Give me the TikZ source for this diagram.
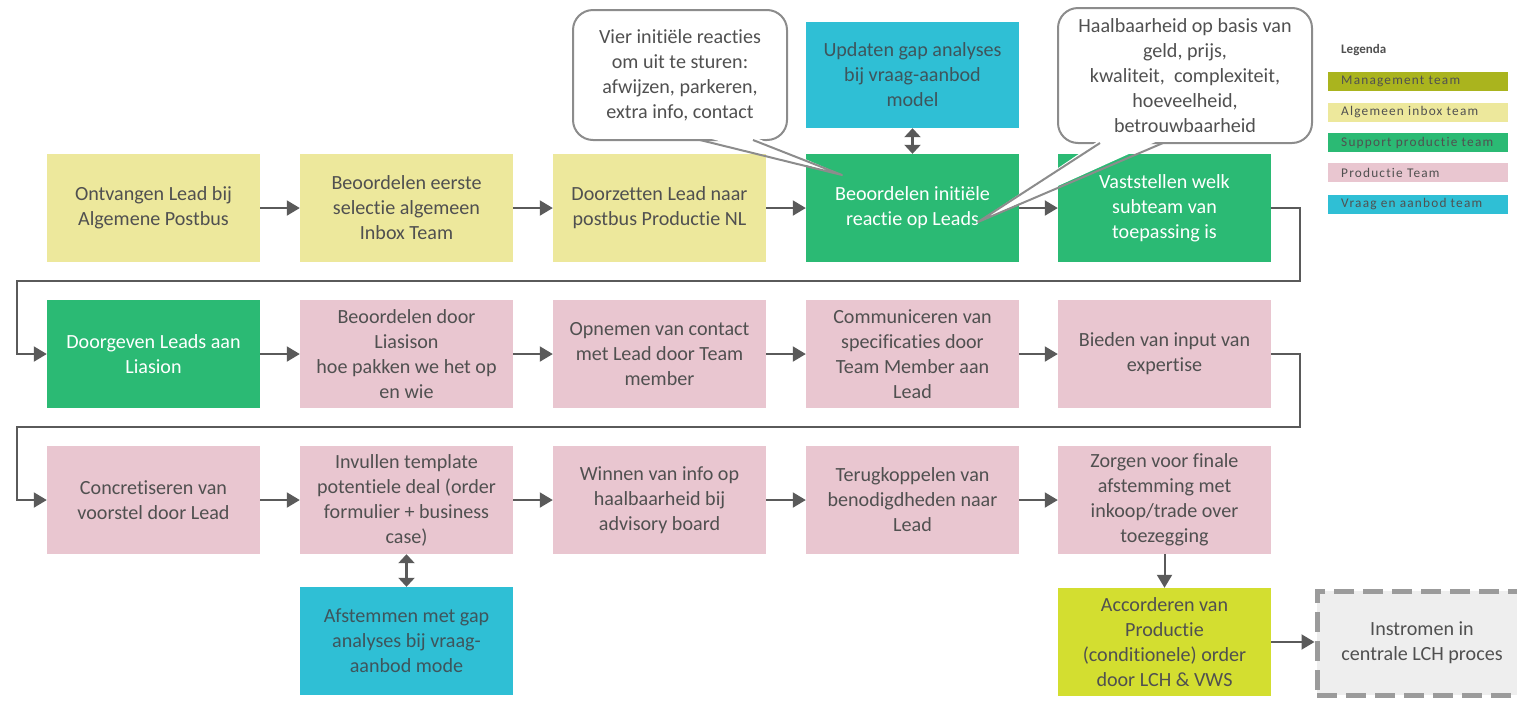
\documentclass[tikz,border=0pt]{standalone}
\usepackage{fontspec}
\setmainfont{Carlito}[Ligatures=NoCommon]
\newfontfamily\legfont{Carlito}[Ligatures=NoCommon,LetterSpace=9]
\usetikzlibrary{arrows.meta}
\definecolor{yel}{RGB}{237,232,156}
\definecolor{grn}{RGB}{43,186,116}
\definecolor{pnk}{RGB}{233,198,208}
\definecolor{cya}{RGB}{47,191,213}
\definecolor{oli}{RGB}{170,180,30}
\definecolor{lim}{RGB}{211,222,48}
\definecolor{txt}{RGB}{80,80,80}
\definecolor{ctxt}{RGB}{62,85,92}
\definecolor{ln}{RGB}{90,90,90}
\definecolor{cbord}{RGB}{140,140,140}
\definecolor{dgray}{RGB}{155,155,155}
\definecolor{lgray}{RGB}{238,238,238}
\begin{document}
\begin{tikzpicture}[x=1pt,y=-1pt,
 box/.style={minimum width=213pt,minimum height=108pt,inner sep=0pt,align=center,
   font=\fontsize{20.1}{25}\selectfont,text=txt},
 yelbox/.style={box,fill=yel},
 grnbox/.style={box,fill=grn,text=white},
 pnkbox/.style={box,fill=pnk},
 cyabox/.style={box,fill=cya,text=ctxt},
 limbox/.style={box,fill=lim},
 arr/.style={draw=ln,line width=2pt,-{Triangle[length=13pt,width=15pt]}},
 darr/.style={draw=ln,line width=3.5pt,{Triangle[length=9pt,width=16pt]}-{Triangle[length=9pt,width=16pt]}},
 callbox/.style={draw=cbord,line width=2pt,fill=white,rounded corners=20pt,inner sep=0pt,align=center,
   font=\fontsize{20.1}{25}\selectfont,text=txt},
 tail/.style={draw=cbord,line width=2pt,line join=round},
 legbar/.style={minimum width=180pt,minimum height=19pt,inner sep=0pt},
 legtxt/.style={anchor=west,inner sep=0pt,font=\legfont\fontsize{13.3}{15}\selectfont,text=txt}
]
\useasboundingbox (0,0) rectangle (1517,702);
\clip (0,0) rectangle (1517,702);

% Row 1
\node[yelbox] (n1) at (153.5,208) {Ontvangen Lead bij\\Algemene Postbus};
\node[yelbox] (n2) at (406.5,208) {Beoordelen eerste\\selectie algemeen\\Inbox Team};
\node[yelbox] (n3) at (659.5,208) {Doorzetten Lead naar\\postbus Productie NL};
\node[grnbox] (n4) at (912.5,208) {Beoordelen initiële\\reactie op Leads};
\node[grnbox] (n5) at (1164.5,208) {Vaststellen welk\\subteam van\\toepassing is};
\node[cyabox,minimum height=106pt] (up) at (912.5,75) {Updaten gap analyses\\bij vraag-aanbod\\model};

% Row 2
\node[grnbox] (n6) at (153.5,354) {Doorgeven Leads aan\\Liasion};
\node[pnkbox] (n7) at (406.5,354) {Beoordelen door\\Liasison\\hoe pakken we het op\\en wie};
\node[pnkbox] (n8) at (659.5,354) {Opnemen van contact\\met Lead door Team\\member};
\node[pnkbox] (n9) at (912.5,354) {Communiceren van\\specificaties door\\Team Member aan\\Lead};
\node[pnkbox] (n10) at (1164.5,354) {Bieden van input van\\expertise};

% Row 3
\node[pnkbox] (n11) at (153.5,500) {Concretiseren van\\voorstel door Lead};
\node[pnkbox] (n12) at (406.5,500) {Invullen template\\potentiele deal (order\\formulier + business\\case)};
\node[pnkbox] (n13) at (659.5,500) {Winnen van info op\\haalbaarheid bij\\advisory board};
\node[pnkbox] (n14) at (912.5,500) {Terugkoppelen van\\benodigdheden naar\\Lead};
\node[pnkbox] (n15) at (1164.5,500) {Zorgen voor finale\\afstemming met\\inkoop/trade over\\toezegging};

% Row 4
\node[cyabox] (af) at (406.5,641) {Afstemmen met gap\\analyses bij vraag-\\aanbod mode};
\node[limbox] (ac) at (1164.5,642) {Accorderen van\\Productie\\(conditionele) order\\door LCH \& VWS};
\node[box,fill=lgray,draw=dgray,line width=5pt,dash pattern=on 20pt off 9pt,minimum width=300pt,minimum height=104pt] (in) at (1467,643) {};
\node[box,minimum width=0pt,minimum height=0pt] (intxt) at (1422,643) {Instromen in\\centrale LCH proces};

% Connectors
\draw[arr] (n1) -- (n2);
\draw[arr] (n2) -- (n3);
\draw[arr] (n3) -- (n4);
\draw[arr] (n4) -- (n5);
\coordinate (w1) at (1300,281);
\coordinate (w2) at (17,354);
\draw[arr] (n5.east) -| (w1) -| (w2) -- (n6.west);
\draw[arr] (n6) -- (n7);
\draw[arr] (n7) -- (n8);
\draw[arr] (n8) -- (n9);
\draw[arr] (n9) -- (n10);
\coordinate (w3) at (1300,427);
\coordinate (w4) at (17,500);
\draw[arr] (n10.east) -| (w3) -| (w4) -- (n11.west);
\draw[arr] (n11) -- (n12);
\draw[arr] (n12) -- (n13);
\draw[arr] (n13) -- (n14);
\draw[arr] (n14) -- (n15);
\draw[arr] (n15) -- (ac);
\draw[arr] (ac.east) -- (ac.east -| in.west);
\draw[darr] (up) -- (n4);
\draw[darr] (n12) -- (af);

% Callouts
\node[callbox,minimum width=214pt,minimum height=130pt] (c1) at (680,75) {Vier initiële reacties\\om uit te sturen:\\afwijzen, parkeren,\\extra info, contact};
\fill[white] (701,136) -- (842,175) -- (752,136) -- cycle;
\draw[tail] (700,140) -- (842,175) -- (753,140);

\node[callbox,minimum width=254pt,minimum height=135pt] (c2) at (1185,75.5) {Haalbaarheid op basis van\\geld, prijs,\\kwaliteit,\ \ complexiteit,\\hoeveelheid,\\betrouwbaarheid};
\fill[white] (1101,139) -- (978,222) -- (1162,139) -- cycle;
\draw[tail] (1100,143) -- (978,222) -- (1163,143);

% Legend
\node[anchor=west,inner sep=0pt,font=\bfseries\fontsize{13}{15}\selectfont,text=txt] (lg) at (1341,50) {Legenda};
\node[legbar,fill=oli] (l1) at (1418,81.5) {};
\node[legtxt] at (1341,81.5) {Management team};
\node[legbar,fill=yel] (l2) at (1418,112.5) {};
\node[legtxt] at (1341,112.5) {Algemeen inbox team};
\node[legbar,fill=grn] (l3) at (1418,142.5) {};
\node[legtxt] at (1341,142.5) {Support productie team};
\node[legbar,fill=pnk] (l4) at (1418,172.5) {};
\node[legtxt] at (1341,172.5) {Productie Team};
\node[legbar,fill=cya] (l5) at (1418,204.5) {};
\node[legtxt] at (1341,204.5) {Vraag en aanbod team};
\end{tikzpicture}
\end{document}
